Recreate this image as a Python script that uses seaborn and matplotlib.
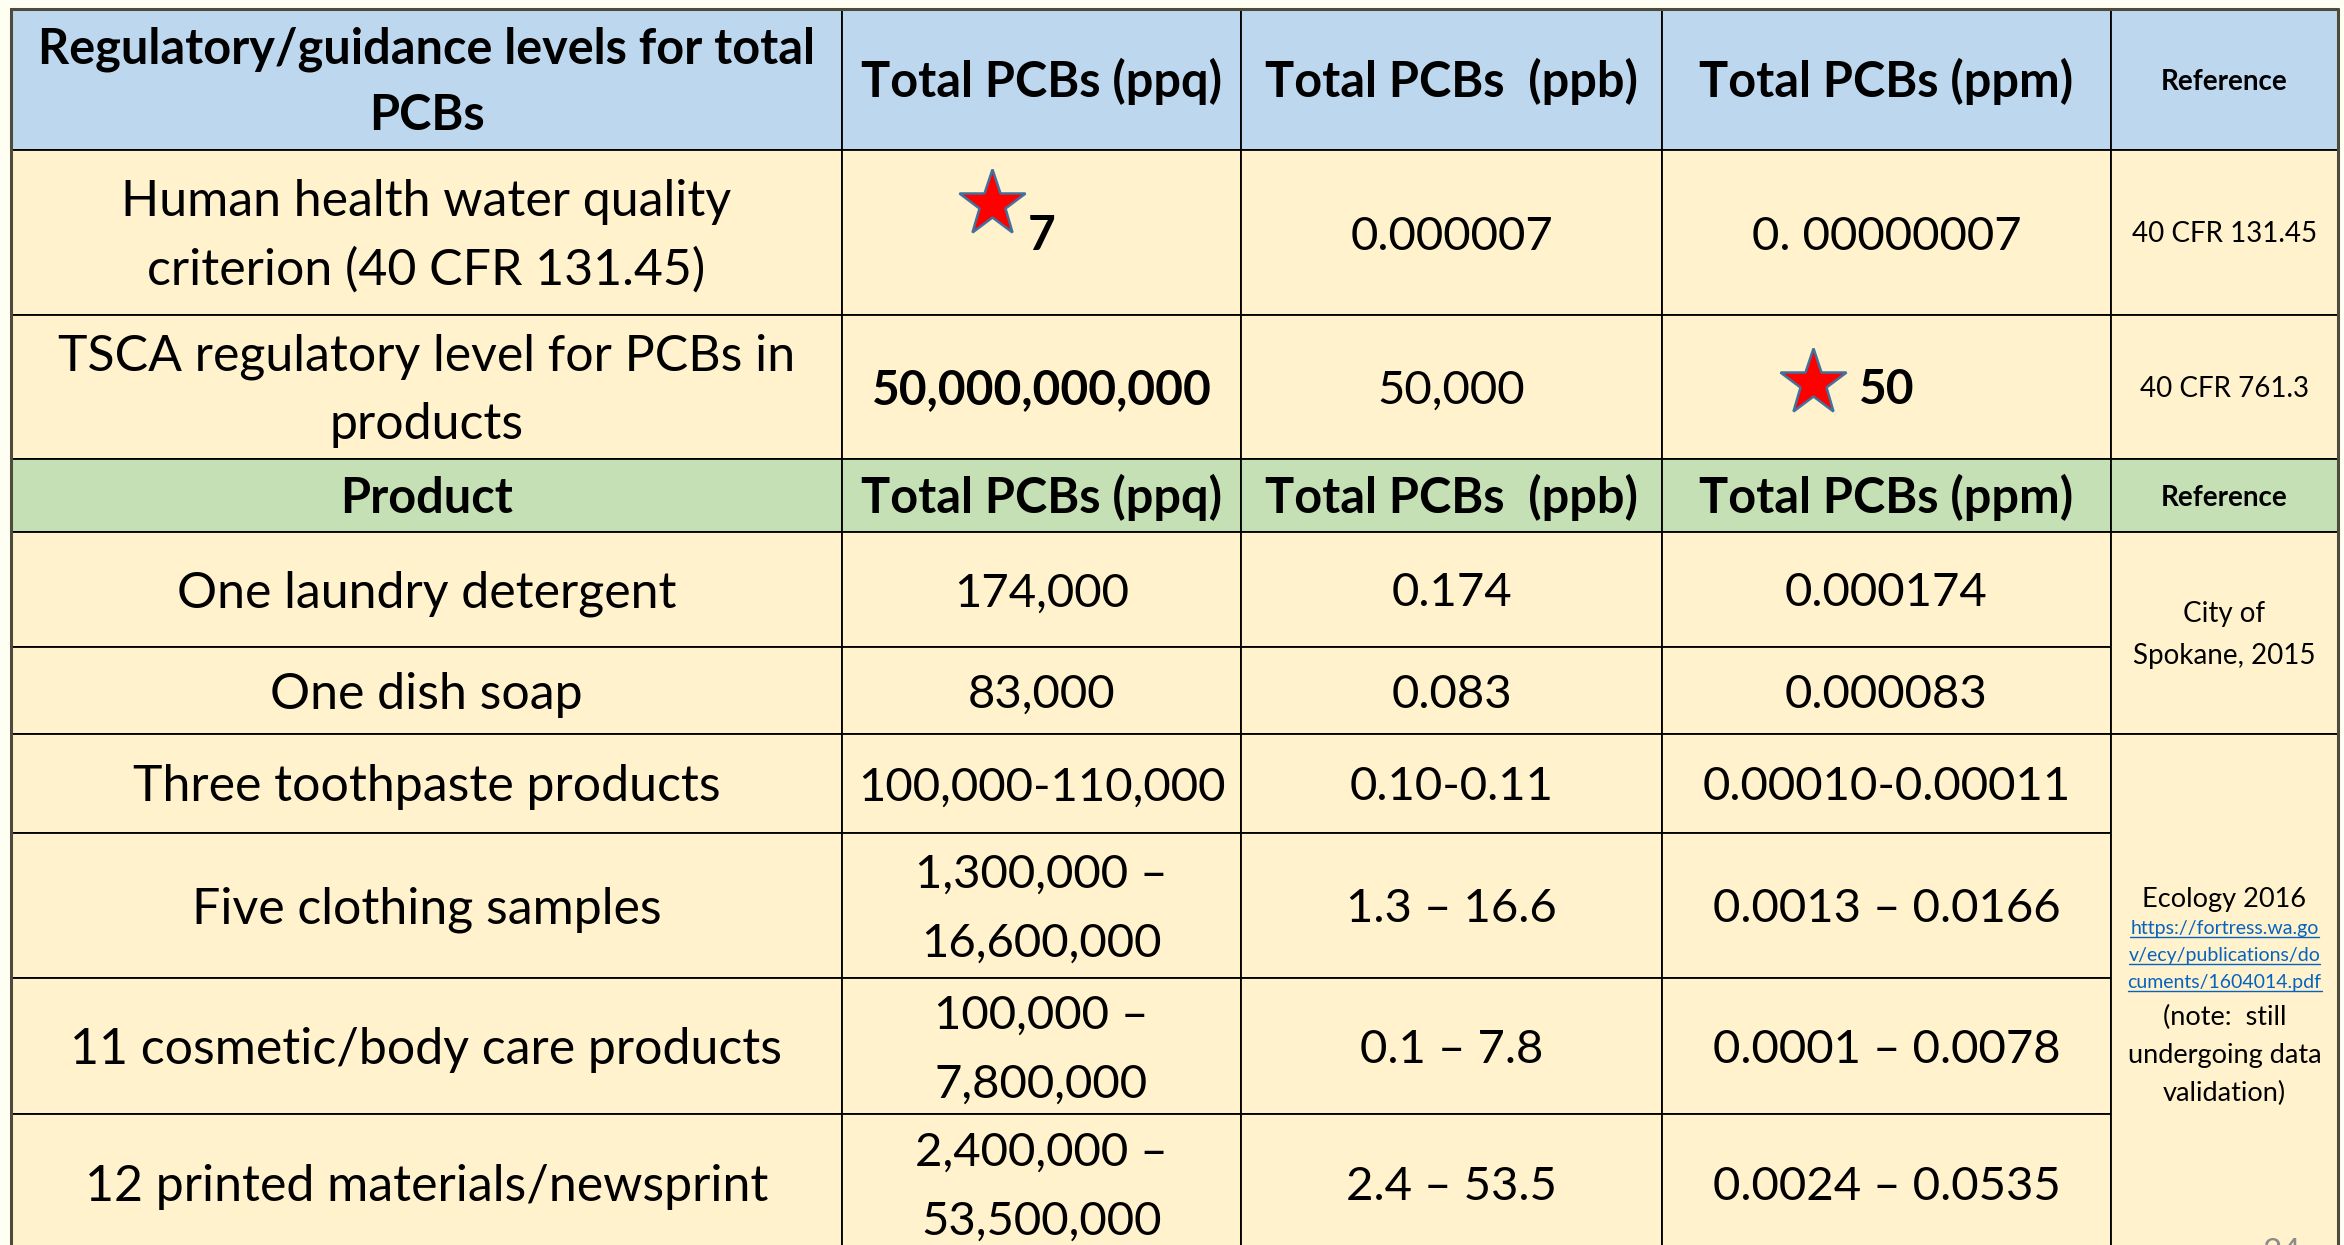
import matplotlib
matplotlib.use("Agg")
import matplotlib.pyplot as plt
import seaborn as sns

# ---- table content ----
top_header = ["Regulatory/guidance levels for total\nPCBs", "Total PCBs (ppq)",
              "Total PCBs  (ppb)", "Total PCBs (ppm)", "Reference"]
reg_levels = ["Human health water quality\ncriterion (40 CFR 131.45)",
              "TSCA regulatory level for PCBs in\nproducts"]
reg_ppq = ["7", "50,000,000,000"]
reg_ppb = ["0.000007", "50,000"]
reg_ppm = ["0. 00000007", "50"]
reg_refs = ["40 CFR 131.45", "40 CFR 761.3"]

mid_header = ["Product", "Total PCBs (ppq)", "Total PCBs  (ppb)", "Total PCBs (ppm)", "Reference"]
products = ["One laundry detergent", "One dish soap", "Three toothpaste products",
            "Five clothing samples", "11 cosmetic/body care products",
            "12 printed materials/newsprint"]
prod_ppq = ["174,000", "83,000", "100,000-110,000", "1,300,000 \u2013\n16,600,000",
            "100,000 \u2013\n7,800,000", "2,400,000 \u2013\n53,500,000"]
prod_ppb = ["0.174", "0.083", "0.10-0.11", "1.3 \u2013 16.6", "0.1 \u2013 7.8", "2.4 \u2013 53.5"]
prod_ppm = ["0.000174", "0.000083", "0.00010-0.00011", "0.0013 \u2013 0.0166",
            "0.0001 \u2013 0.0078", "0.0024 \u2013 0.0535"]
ref_city = ["City of", "Spokane, 2015"]
ref_ecology = "Ecology 2016"
ref_link = ["https://fortress.wa.go", "v/ecy/publications/do", "cuments/1604014.pdf"]
ref_note = ["(note:  still", "undergoing data", "validation)"]
page_no = "24"

# ---- layout (pixel grid of the slide) ----
col_edges = [11, 842, 1241, 1662, 2111, 2338]
row_edges = [9, 150, 315, 459, 532, 647, 734, 833, 978, 1114, 1252]
blue, cream, green = "#BDD7EE", "#FFF2CC", "#C5E0B4"
row_colors = [blue, cream, cream, green] + [cream] * 6

sns.set_theme(style="white")
plt.rcParams["font.family"] = ["Lato", "DejaVu Sans"]

fig = plt.figure(figsize=(23.44, 12.45), dpi=100, facecolor="#FFFEF2")
ax = fig.add_axes([0, 0, 1, 1])
ax.set_facecolor("#FFFEF2")
ax.set_xlim(0, 2344)
ax.set_ylim(1245, 0)
ax.axis("off")

# cell backgrounds (reference column is merged in the product part)
for r in range(len(row_edges) - 1):
    top, h = row_edges[r], row_edges[r + 1] - row_edges[r]
    ncols = 5 if r < 4 else 4
    lefts = col_edges[:ncols]
    widths = [col_edges[c + 1] - col_edges[c] for c in range(ncols)]
    ax.bar(lefts, [h] * ncols, width=widths, bottom=top, align="edge",
           color=row_colors[r], edgecolor="black", linewidth=1.3)
for r0, r1 in [(4, 6), (6, 10)]:
    ax.bar(col_edges[4], row_edges[r1] - row_edges[r0], width=col_edges[5] - col_edges[4],
           bottom=row_edges[r0], align="edge", color=cream, edgecolor="black", linewidth=1.3)

# outer frame
ax.plot([col_edges[0], col_edges[0]], [row_edges[0], 1260], color="#4F4B3C", lw=2.2)
ax.plot([col_edges[-1], col_edges[-1]], [row_edges[0], 1260], color="#4F4B3C", lw=2.2)
ax.plot([col_edges[0], col_edges[-1]], [row_edges[0], row_edges[0]], color="#4F4B3C", lw=2.2)


def put(x, yc, text, size, weight="normal", gap=None, color="black"):
    px = size * 100 / 72
    lines = text.split("\n")
    gap = gap or 1.3 * px
    n = len(lines)
    out = []
    for i, s in enumerate(lines):
        yb = yc + (i - (n - 1) / 2) * gap + 0.36 * px
        out.append(ax.text(x, yb, s, fontsize=size, fontweight=weight, ha="center",
                           va="baseline", color=color))
    return out


xc = [(col_edges[c] + col_edges[c + 1]) / 2 for c in range(5)]
yc = [(row_edges[r] + row_edges[r + 1]) / 2 for r in range(10)]
body, num, hdr, small = 36, 34, 35, 20

# header rows
for c, lab in enumerate(top_header):
    put(xc[c], yc[0], lab, small if c == 4 else hdr, "bold", gap=67)
for c, lab in enumerate(mid_header):
    put(xc[c], yc[3], lab, small if c == 4 else hdr, "bold")

# regulatory rows
for i in range(2):
    r = i + 1
    put(xc[0], yc[r], reg_levels[i], body, gap=69)
    put(xc[1], yc[r], reg_ppq[i], num + 0.5, "bold")
    put(xc[2], yc[r], reg_ppb[i], num)
    put(xc[3], yc[r], reg_ppm[i], num + (0.5 if i == 1 else 0), "bold" if i == 1 else "normal")
    put(xc[4], yc[r], reg_refs[i], small)

# stars next to the key limits
star = dict(marker="*", markersize=50, markerfacecolor="#FF0000",
            markeredgecolor="#41719C", markeredgewidth=1.8, linestyle="none")
ax.plot(xc[1] - 50, yc[1] - 29, **star)
ax.plot(xc[3] - 74, yc[2] - 4, **star)

# product rows
for i in range(len(products)):
    r = i + 4
    put(xc[0], yc[r], products[i], body)
    put(xc[1], yc[r], prod_ppq[i], num, gap=69)
    put(xc[2], yc[r], prod_ppb[i], num)
    put(xc[3], yc[r], prod_ppm[i], num)

# merged reference cells
put(xc[4], (row_edges[4] + row_edges[6]) / 2, "\n".join(ref_city), small, gap=42)
ymid = (row_edges[6] + row_edges[10]) / 2
put(xc[4], ymid - 96, ref_ecology, 19.5)
links = []
for k, s in enumerate(ref_link):
    links += put(xc[4], ymid - 66 + 27 * k, s, 14, color="#0563C1")
for k, s in enumerate(ref_note):
    put(xc[4], ymid + 22 + 38 * k, s, 19.5)

# page number, cut by the slide edge
ax.text(2282, 1262, page_no, fontsize=24, color="#8C8C8C", ha="center", va="baseline")

# underline the hyperlink
fig.canvas.draw()
inv = ax.transData.inverted()
for t in links:
    bb = t.get_window_extent()
    (x0, _), (x1, _) = inv.transform([(bb.x0, bb.y0), (bb.x1, bb.y0)])
    yb = t.get_position()[1] + 3
    ax.plot([x0, x1], [yb, yb], color="#0563C1", lw=1.0)

fig.savefig("out.png", dpi=100, facecolor=fig.get_facecolor())
